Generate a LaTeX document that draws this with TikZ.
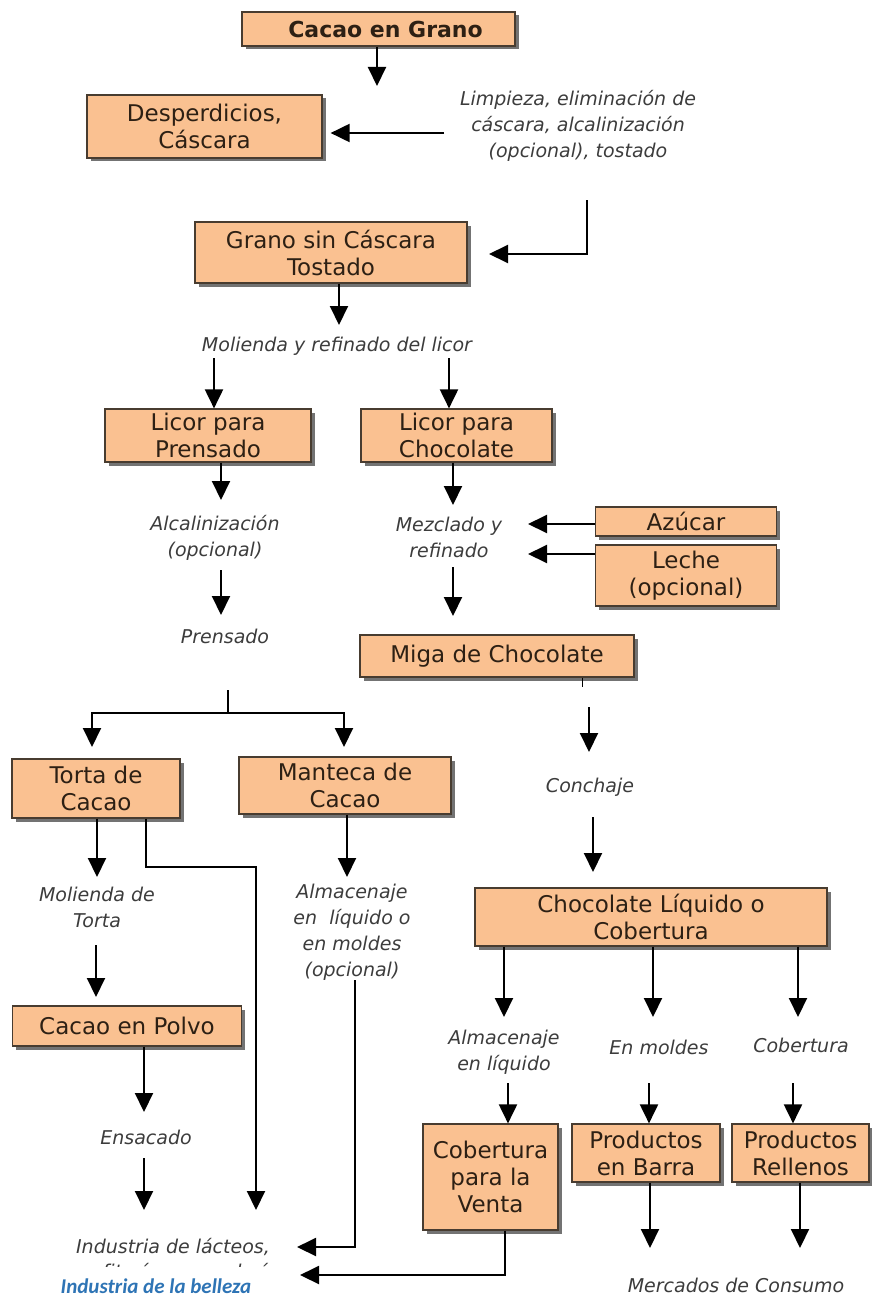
\documentclass[tikz,border=0pt]{standalone}
\usepackage{fontspec}
\setmainfont{DejaVu Sans}
\newfontfamily\bellezafont{Carlito}
\usetikzlibrary{arrows.meta,shadows}
\definecolor{boxfill}{RGB}{250,193,145}
\definecolor{boxline}{RGB}{72,60,48}
\definecolor{boxtext}{RGB}{45,32,20}
\definecolor{pasotext}{RGB}{60,60,60}
\definecolor{bellezablue}{RGB}{46,116,181}

\begin{document}
\begin{tikzpicture}[x=1pt, y=-1pt,
            box/.style={rectangle, draw=boxline, line width=1.2pt, fill=boxfill, align=center, inner sep=0pt,
                text=boxtext, font=\fontsize{23}{27}\selectfont,
                drop shadow={shadow xshift=3.5pt, shadow yshift=-3.5pt, fill=black!55, opacity=1}},
            paso/.style={align=center, text=pasotext, font=\fontsize{19}{26}\selectfont\itshape},
            arrow/.style={-{Triangle[width=18pt,length=19pt]}, line width=2pt},
            conn/.style={line width=2pt}
        ]
            \useasboundingbox (0,0) rectangle (871,1300);

            % Boxes
            \node[box, minimum width=273, minimum height=34, font=\fontsize{22}{27}\selectfont\bfseries] (cacao) at (378.5,29) {\hspace*{14pt}Cacao en Grano};
            \node[box, minimum width=235, minimum height=63] (desp) at (204.5,126.5) {Desperdicios,\\C\'ascara};
            \node[box, minimum width=272, minimum height=61] (grano) at (331,252.5) {Grano sin C\'ascara\\Tostado};
            \node[box, minimum width=206, minimum height=53] (licorP) at (208,435.5) {Licor para\\Prensado};
            \node[box, minimum width=191, minimum height=53] (licorC) at (456.5,435.5) {Licor para\\Chocolate};
            \node[box, minimum width=181, minimum height=29] (azucar) at (686,521.5) {Az\'ucar};
            \node[box, minimum width=181, minimum height=61] (leche) at (686,575.5) {Leche\\(opcional)};
            \node[box, minimum width=274, minimum height=42] (miga) at (497,656) {Miga de Chocolate};
            \node[box, minimum width=168, minimum height=59] (torta) at (96,788.5) {Torta de\\Cacao};
            \node[box, minimum width=212, minimum height=57] (manteca) at (345,785.5) {Manteca de\\Cacao};
            \node[box, minimum width=352, minimum height=58] (choco) at (651,917) {Chocolate L\'iquido o\\Cobertura};
            \node[box, minimum width=229, minimum height=40] (polvo) at (127,1026) {Cacao en Polvo};
            \node[box, minimum width=135, minimum height=106] (venta) at (490.5,1177) {Cobertura\\para la\\Venta};
            \node[box, minimum width=148, minimum height=58] (barra) at (646,1153) {Productos\\en Barra};
            \node[box, minimum width=137, minimum height=58] (rellenos) at (800.5,1153) {Productos\\Rellenos};

            % Process steps
            \node[paso] (limpieza) at (578,126) {Limpieza, eliminaci\'on de\\c\'ascara, alcalinizaci\'on\\(opcional), tostado};
            \node[paso] (molienda) at (337,346) {Molienda y refinado del licor};
            \node[paso] (alcal) at (215,538) {Alcalinizaci\'on\\(opcional)};
            \node[paso] (mezclado) at (449,537) {Mezclado y\\refinado};
            \node[paso] (prensado) at (225,636) {Prensado};
            \node[paso] (conchaje) at (590,787) {Conchaje};
            \node[paso] (molTorta) at (97,907) {Molienda de\\Torta};
            \node[paso] (almacMold) at (352,932) {Almacenaje\\en\ \ l\'iquido o\\en moldes\\(opcional)};
            \node[paso] (almacLiq) at (504,1052) {Almacenaje\\en l\'iquido};
            \node[paso] (moldes) at (659,1047) {En moldes};
            \node[paso] (cobert) at (801,1045) {Cobertura};
            \node[paso] (ensacado) at (146,1137) {Ensacado};
            \node[paso] (lacteos) at (173,1247) {Industria de l\'acteos,};
            \begin{scope}
                \clip (50,1256) rectangle (300,1266);
                \node[paso] (confi) at (173,1273) {confiter\'ia y panader\'ia};
            \end{scope}
            \node[paso] (mercados) at (736,1285) {Mercados de Consumo};
            \node[font=\bellezafont\fontsize{21}{24}\selectfont\bfseries\itshape, text=bellezablue, inner sep=1pt] (belleza) at (156,1286) {Industria de la belleza};

            % Arrow ends
            \coordinate (t1) at (377,86);
            \coordinate (s2) at (444,133);
            \coordinate (s3) at (587,200);
            \coordinate (t3) at (489,254);
            \coordinate (t4) at (339,325);
            \coordinate (s5) at (214,358);
            \coordinate (s6) at (449,358);
            \coordinate (t7) at (221,500);
            \coordinate (t8) at (453,505);
            \coordinate (t9) at (528,524);
            \coordinate (t10) at (528,554);
            \coordinate (s11) at (221,570);
            \coordinate (t11) at (221,615);
            \coordinate (s12) at (453,567);
            \coordinate (t12) at (453,616);
            \coordinate (s13) at (228,690);
            \coordinate (j13) at (228,713);
            \coordinate (t13a) at (92,747);
            \coordinate (t13b) at (344,747);
            \coordinate (s14) at (582,687);
            \coordinate (s15) at (589,707);
            \coordinate (t15) at (589,752);
            \coordinate (s16) at (593,817);
            \coordinate (t16) at (593,872);
            \coordinate (t17) at (97,877);
            \coordinate (t18) at (347,877);
            \coordinate (c19) at (146,867);
            \coordinate (t19) at (256,1210);
            \coordinate (s20) at (96,945);
            \coordinate (t20) at (96,997);
            \coordinate (t21) at (144,1112);
            \coordinate (s22) at (144,1158);
            \coordinate (t22) at (144,1210);
            \coordinate (s23) at (355,980);
            \coordinate (t23) at (297,1247);
            \coordinate (t24a) at (504,1017);
            \coordinate (t24b) at (653,1017);
            \coordinate (t24c) at (798,1017);
            \coordinate (s25a) at (508,1083);
            \coordinate (s25b) at (649,1083);
            \coordinate (s25c) at (793,1083);
            \coordinate (c26) at (505,1275);
            \coordinate (t26) at (300,1275);
            \coordinate (t27a) at (650,1248);
            \coordinate (t27b) at (800,1248);

            % Arrows
            \draw[arrow] (cacao.south -| t1) -- (t1);
            \draw[arrow, shorten >=8pt] (s2) -- (desp.east |- s2);
            \draw[arrow] (s3) |- (t3);
            \draw[arrow] (grano.south -| t4) -- (t4);
            \draw[arrow] (s5) -- (licorP.north -| s5);
            \draw[arrow] (s6) -- (licorC.north -| s6);
            \draw[arrow] (licorP.south -| t7) -- (t7);
            \draw[arrow] (licorC.south -| t8) -- (t8);
            \draw[arrow] (azucar.west |- t9) -- (t9);
            \draw[arrow] (leche.west |- t10) -- (t10);
            \draw[arrow] (s11) -- (t11);
            \draw[arrow] (s12) -- (t12);
            \draw[conn] (s13) -- (j13);
            \draw[arrow] (j13) -| (t13a);
            \draw[arrow] (j13) -| (t13b);
            \draw[line width=0.8pt] (miga.south -| s14) -- (s14);
            \draw[arrow] (s15) -- (t15);
            \draw[arrow] (s16) -- (t16);
            \draw[arrow] (torta.south -| t17) -- (t17);
            \draw[arrow] (manteca.south -| t18) -- (t18);
            \draw[arrow] (torta.south -| c19) -- (c19) -| (t19);
            \draw[arrow] (s20) -- (t20);
            \draw[arrow] (polvo.south -| t21) -- (t21);
            \draw[arrow] (s22) -- (t22);
            \draw[arrow] (s23) |- (t23);
            \draw[arrow] (choco.south -| t24a) -- (t24a);
            \draw[arrow] (choco.south -| t24b) -- (t24b);
            \draw[arrow] (choco.south -| t24c) -- (t24c);
            \draw[arrow] (s25a) -- (venta.north -| s25a);
            \draw[arrow] (s25b) -- (barra.north -| s25b);
            \draw[arrow] (s25c) -- (rellenos.north -| s25c);
            \draw[arrow] (venta.south -| c26) -- (c26) -- (t26);
            \draw[arrow] (barra.south -| t27a) -- (t27a);
            \draw[arrow] (rellenos.south -| t27b) -- (t27b);
        \end{tikzpicture}
\end{document}
